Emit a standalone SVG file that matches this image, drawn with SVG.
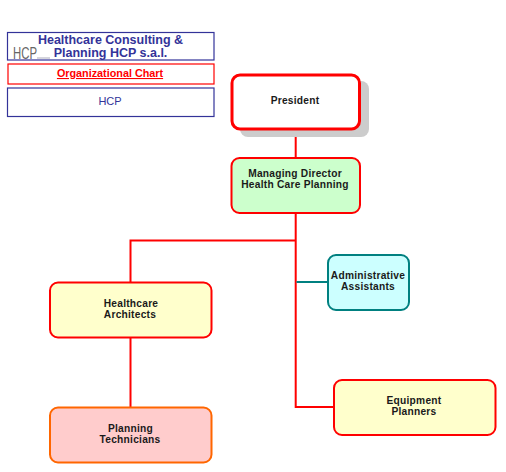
<svg xmlns="http://www.w3.org/2000/svg" width="506" height="472" viewBox="0 0 506 472">
<style>
text{font-family:"Liberation Sans",Arial,sans-serif;text-anchor:middle}
.n{font-size:10.2px;font-weight:bold;fill:#1a1a1a;letter-spacing:.25px}
.r{stroke:#ff0000;stroke-width:2}
.c{fill:none;stroke:#ff0000;stroke-width:2}
.h{fill:#fff;stroke:#333399;stroke-width:1.2}
</style>
<rect width="506" height="472" fill="#fff"/>
<g id="connectors">
<path class="c" d="M295.7 129V157"/>
<path class="c" d="M295.7 213V407H333"/>
<path class="c" d="M295.7 240.500H130.500V282"/>
<path class="c" d="M130.500 338V407"/>
<path d="M296.500 282H328" fill="none" stroke="#008080" stroke-width="2"/>
</g>
<g id="title">
<rect class="h" x="7.500" y="32.500" width="206.500" height="27.500"/>
<text x="110.500" y="43.500" font-size="12.500" font-weight="bold" fill="#333399">Healthcare Consulting &amp;</text>
<text x="110.500" y="56.500" font-size="12.500" font-weight="bold" fill="#333399">Planning HCP s.a.l.</text>
<text x="25" y="58.500" font-size="16" fill="#666" textLength="24" lengthAdjust="spacingAndGlyphs">HCP</text>
<rect x="37" y="57" width="13" height="2" fill="#d5d5dd"/>
</g>
<g id="subtitle">
<rect x="8" y="64" width="206" height="20" fill="#fff" stroke="#ff0000" stroke-width="1.200"/>
<text x="110" y="77" font-size="10.800" font-weight="bold" fill="#ff0000" text-decoration="underline">Organizational Chart</text>
</g>
<g id="hcp">
<rect class="h" x="7.500" y="88" width="206.500" height="28.500"/>
<text x="110" y="105" font-size="11" fill="#333399">HCP</text>
</g>
<g id="president">
<rect x="240" y="81" width="129" height="56" rx="8" fill="#cccccc"/>
<rect x="232" y="75" width="127.500" height="54" rx="8" fill="#fff" stroke="#ff0000" stroke-width="3"/>
<text class="n" x="295" y="104">President</text>
</g>
<g id="managing-director">
<rect class="r" x="231.500" y="158" width="128.500" height="55" rx="8" fill="#ccffcc"/>
<text class="n" x="295" y="177">Managing Director</text>
<text class="n" x="295" y="187.500">Health Care Planning</text>
</g>
<g id="healthcare-architects">
<rect class="r" x="50" y="282.500" width="161.500" height="55" rx="8" fill="#ffffcc"/>
<text class="n" x="131" y="307">Healthcare</text>
<text class="n" x="130" y="318">Architects</text>
</g>
<g id="administrative-assistants">
<rect x="328" y="255" width="81" height="55" rx="8" fill="#ccffff" stroke="#008080" stroke-width="2"/>
<text class="n" x="368" y="279">Administrative</text>
<text class="n" x="368" y="290">Assistants</text>
</g>
<g id="equipment-planners">
<rect class="r" x="334" y="380" width="161.500" height="55" rx="8" fill="#ffffcc"/>
<text class="n" x="414" y="404">Equipment</text>
<text class="n" x="414" y="415">Planners</text>
</g>
<g id="planning-technicians">
<rect x="50" y="407.500" width="161.500" height="55" rx="8" fill="#ffcccc" stroke="#ff6600" stroke-width="2"/>
<text class="n" x="130.500" y="432">Planning</text>
<text class="n" x="130" y="443">Technicians</text>
</g>
</svg>
